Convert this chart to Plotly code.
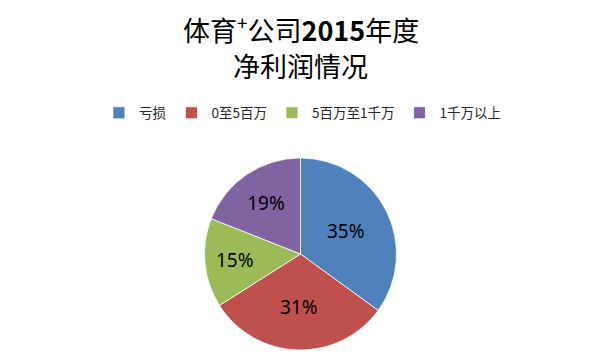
import plotly.graph_objects as go

categories = ["亏损", "0至5百万", "5百万至1千万", "1千万以上"]
values = [35, 31, 15, 19]
colors = ["#4F81BD", "#C0504D", "#9BBB59", "#8064A2"]
title_lines = ["体育<sup>+</sup>公司<b>2015</b>年度", "净利润情况"]

W, H = 611, 362
cx, cy, r = 300.5, 254, 96

fig = go.Figure(go.Pie(
    labels=categories,
    values=values,
    marker=dict(colors=colors, line=dict(color="#FFFFFF", width=0.8)),
    sort=False,
    direction="clockwise",
    rotation=0,
    textinfo="percent",
    textposition="inside",
    insidetextorientation="horizontal",
    textfont=dict(family="Noto Sans, DejaVu Sans, sans-serif", size=19, color="#000000"),
    domain=dict(x=[(cx - r) / W, (cx + r) / W], y=[(H - cy - r) / H, (H - cy + r) / H]),
    hoverinfo="label+percent",
))

fig.update_layout(
    width=W, height=H,
    margin=dict(l=0, r=0, t=0, b=0),
    paper_bgcolor="#FFFFFF",
    plot_bgcolor="#FFFFFF",
    showlegend=True,
    legend=dict(
        orientation="h",
        x=0.495, xanchor="center",
        y=1 - 113 / H, yanchor="middle",
        font=dict(family="Noto Sans CJK SC, sans-serif", size=13.5, color="#262626"),
        itemwidth=30,
        traceorder="normal",
    ),
    annotations=[
        dict(text=title_lines[0], x=0.492, y=1 - 29 / H, xref="paper", yref="paper",
             showarrow=False, xanchor="center", yanchor="middle",
             font=dict(family="Noto Sans CJK SC, sans-serif", size=27, color="#000000")),
        dict(text=title_lines[1], x=0.492, y=1 - 65 / H, xref="paper", yref="paper",
             showarrow=False, xanchor="center", yanchor="middle",
             font=dict(family="Noto Sans CJK SC, sans-serif", size=27, color="#000000")),
    ],
)

fig.write_html("out.html")
